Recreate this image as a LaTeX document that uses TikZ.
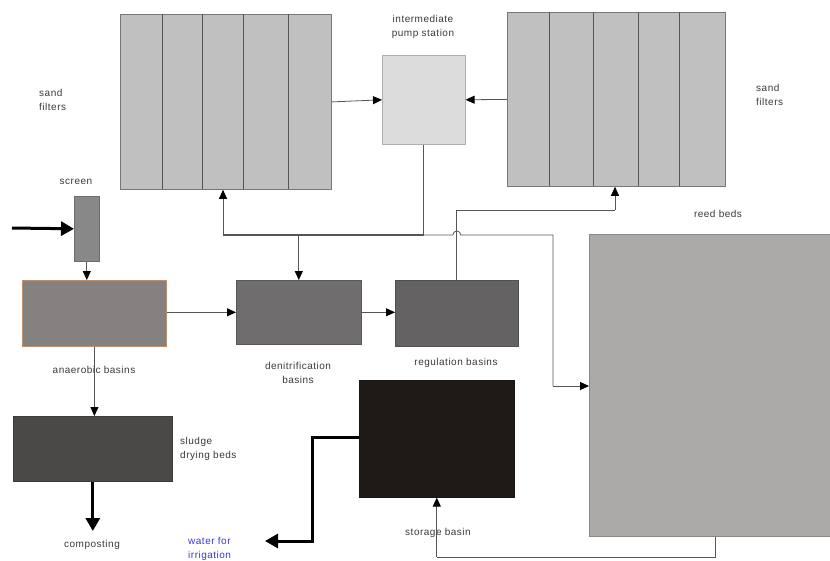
\documentclass[tikz,border=0pt]{standalone}
\usepackage{fontspec}
\setmainfont[LetterSpace=5]{Liberation Sans}
\usetikzlibrary{arrows.meta}
\definecolor{sandc}{HTML}{C0C0C0}
\definecolor{pumpc}{HTML}{DCDCDC}
\definecolor{screenc}{HTML}{888888}
\definecolor{anac}{HTML}{858181}
\definecolor{anaborder}{HTML}{B89070}
\definecolor{denc}{HTML}{6F6D6D}
\definecolor{regc}{HTML}{646262}
\definecolor{storc}{HTML}{1E1A18}
\definecolor{sludc}{HTML}{4B4848}
\definecolor{reedc}{HTML}{ACA9A9}
\definecolor{linec}{HTML}{555555}
\definecolor{labc}{HTML}{3A3A3A}
\definecolor{bluec}{HTML}{3838E0}
\tikzset{
  basin/.style={draw=#1!80!black, line width=0.6pt, anchor=north west, inner sep=0pt},
  divider/.style={draw=linec, line width=0.9pt},
  conn/.style={draw=linec, line width=0.8pt, -{Triangle[length=9pt,width=8pt,color=black]}},
  plain/.style={draw=linec, line width=0.8pt},
  heavy/.style={draw=linec, line width=1.3pt},
  thick arrow/.style={draw=black, line width=3pt, -{Triangle[length=13pt,width=14pt]}},
  lab/.style={font=\fontsize{10}{14.5}\selectfont, text=labc, inner sep=0pt, align=center},
  labl/.style={font=\fontsize{10}{14.5}\selectfont, text=labc, inner sep=0pt, align=left, anchor=west},
}
\begin{document}
\begin{tikzpicture}[x=1pt,y=-1pt]
\clip (0,0) rectangle (830,560);
\fill[white] (0,0) rectangle (830,560);

% sand filters left
\node[anchor=north west, inner sep=0pt, fill=sandc, draw=linec!80, line width=0.8pt, minimum width=211pt, minimum height=175pt] (sfL) at (120,14) {};
\foreach \x in {162,202,243,288} \draw[divider] (\x,14) -- (\x,189);
% sand filters right
\node[anchor=north west, inner sep=0pt, fill=sandc, draw=linec!80, line width=0.8pt, minimum width=218pt, minimum height=174pt] (sfR) at (507,12) {};
\foreach \x in {549,593,638,679} \draw[divider] (\x,12) -- (\x,186);
% pump station
\node[basin=pumpc, fill=pumpc, minimum width=83pt, minimum height=89pt] (pump) at (382,55) {};
% screen
\node[basin=screenc, fill=screenc, minimum width=25pt, minimum height=65pt] (scr) at (74,196) {};
% anaerobic basins
\node[anchor=north west, fill=anac, draw=anaborder, line width=0.8pt, inner sep=0pt, minimum width=144pt, minimum height=66pt] (ana) at (22,280) {};
% denitrification basins
\node[basin=denc, fill=denc, minimum width=125pt, minimum height=64pt] (den) at (236,280) {};
% regulation basins
\node[basin=regc, fill=regc, minimum width=123pt, minimum height=66pt] (reg) at (395,280) {};
% storage basin
\node[basin=storc, fill=storc, minimum width=155pt, minimum height=117pt] (stor) at (359,380) {};
% sludge drying beds
\node[basin=sludc, fill=sludc, minimum width=159pt, minimum height=65pt] (slud) at (13,416) {};
% reed beds
\node[basin=reedc, fill=reedc, minimum width=245pt, minimum height=302pt] (reed) at (589,234) {};

% labels
\node[lab] (tPump) at (423,27) {intermediate\\pump station};
\node[labl] (tSfL) at (39,100) {sand\\filters};
\node[labl] (tSfR) at (756,95) {sand\\filters};
\node[lab] (tScr) at (76,182) {screen};
\node[lab] (tAna) at (94,370) {anaerobic basins};
\node[lab] (tDen) at (298,373) {denitrification\\basins};
\node[lab] (tReg) at (456,363) {regulation basins};
\node[lab] (tReed) at (718,214) {reed beds};
\node[labl] (tSlud) at (180,449) {sludge\\drying beds};
\node[lab] (tComp) at (92,545) {composting};
\node[labl, text=bluec] (tWater) at (188,549) {water for\\irrigation};
\node[lab] (tStor) at (438,533) {storage basin};

% coordinates
\coordinate (in) at (12,228);
\coordinate (jP) at (pump.south |- 0,235);
\coordinate (jL) at (223,235);
\coordinate (jD) at (den.north |- 0,235);
\coordinate (hop) at (reg.north |- 0,235);
\coordinate (jR) at (553,235);
\coordinate (rIn) at (553,386);
\coordinate (rU) at (615,210);
\coordinate (sOut) at (312,437);
\coordinate (sDn) at (312,541);
\coordinate (wEnd) at (265,541);
\coordinate (compEnd) at (slud.south |- 0,531);
\coordinate (rb) at (715,557);

% connectors
\draw[conn] (sfL.east) -- (pump.west);
\draw[conn] (sfR.west) -- (pump.east);
\draw[thick arrow] (in) -- (scr.west);
\draw[conn] (scr.south) -- (scr.south |- ana.north);
\draw[conn] (ana.east |- den.west) -- (den.west);
\draw[conn] (den.east) -- (reg.west |- den.east);
\draw[conn] (ana.south) -- (ana.south |- slud.north);
\draw[thick arrow] (slud.south) -- (compEnd);
\draw[line width=3pt, -{Triangle[length=13pt,width=14pt]}] (stor.west |- sOut) -- (sOut) -- (sDn) -- (wEnd);
% pump distribution
\draw[heavy] (pump.south) -- (jP);
\draw[heavy] (jP) -- (jL);
\draw[conn] (jL) -- (jL |- sfL.south);
\draw[conn] (jD) -- (den.north);
\draw[plain] (jP) -- ([xshift=-4pt]hop) arc[start angle=180, end angle=0, radius=4pt] -- (jR) -- (rIn);
\draw[conn] (rIn) -- (rIn -| reed.west);
% regulation to right sand filters
\draw[plain] (reg.north) -- (reg.north |- rU) -- (rU);
\draw[conn] (rU) -- (rU |- sfR.south);
% reed beds to storage
\draw[plain] (rb |- reed.south) -- (rb) -- (rb -| stor.south);
\draw[conn] (rb -| stor.south) -- (stor.south);
\end{tikzpicture}
\end{document}
